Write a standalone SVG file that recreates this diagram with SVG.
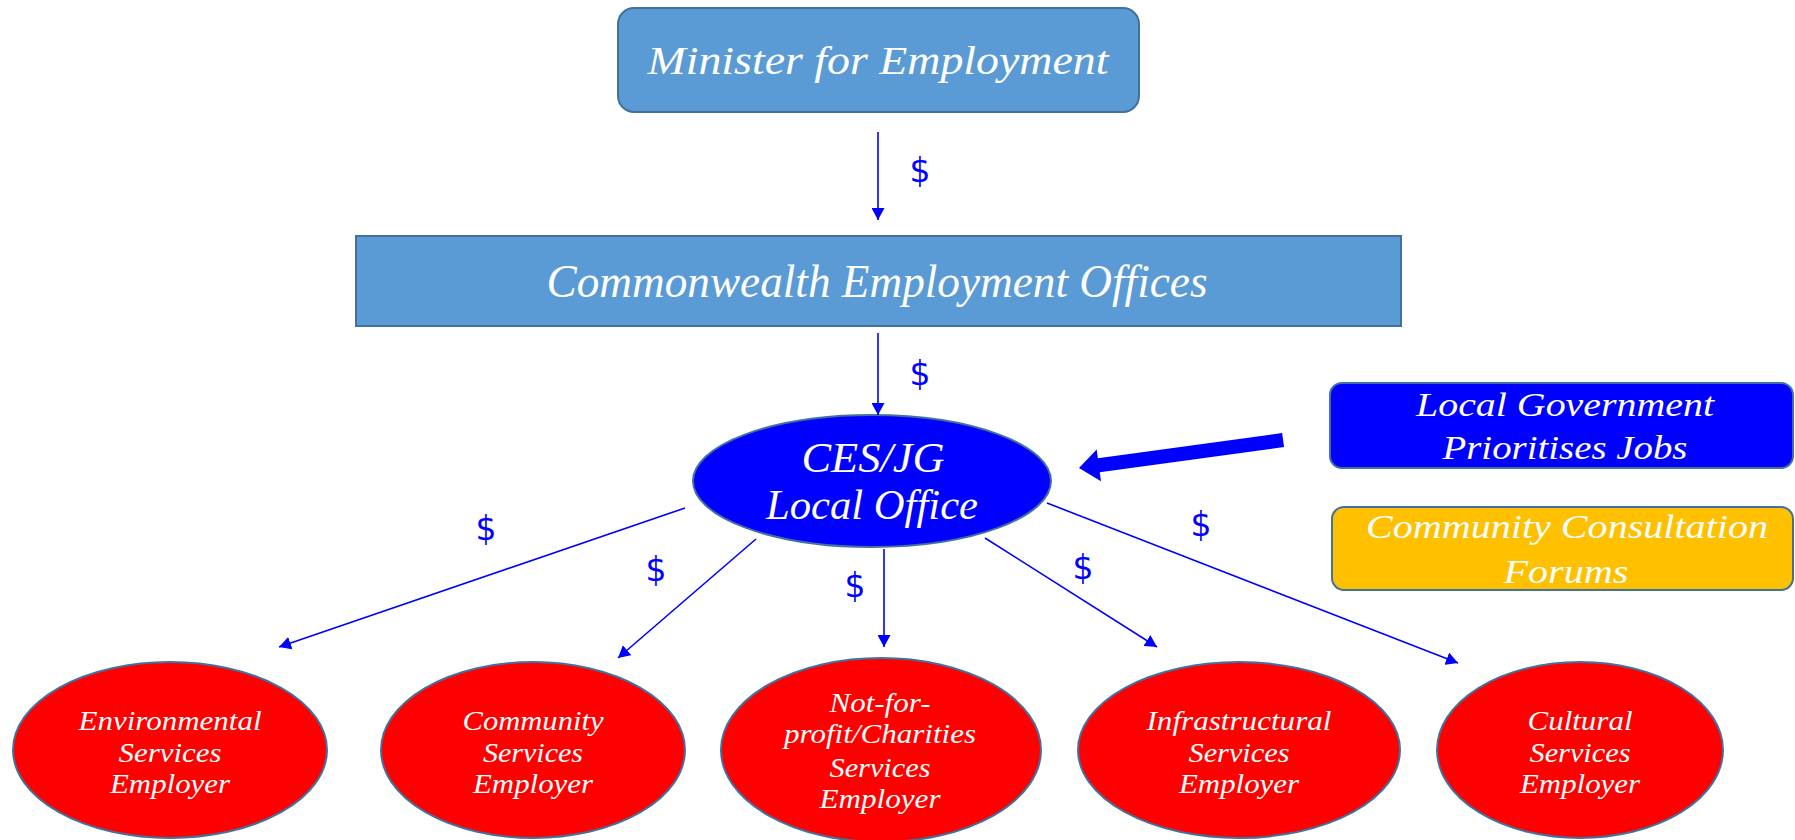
<svg xmlns="http://www.w3.org/2000/svg" width="1795" height="840" viewBox="0 0 1795 840">
  <style>
    .box { fill: #5B9BD5; stroke: #41719C; stroke-width: 2; }
    .lg { fill: #0000FF; stroke: #41719C; stroke-width: 2; }
    .ccf { fill: #FFC000; stroke: #41719C; stroke-width: 2; }
    .office { fill: #0000FF; stroke: #41719C; stroke-width: 2; }
    .emp { fill: #FF0000; stroke: #41719C; stroke-width: 2; }
    .lbl { font-family: "Liberation Serif", "DejaVu Serif", serif; font-style: italic; fill: #FFFFFF; text-anchor: middle; }
    .money { font-family: "DejaVu Sans", "Open Sans", sans-serif; font-size: 33px; fill: #0000FF; text-anchor: middle; }
    .flow { stroke: #0000FF; stroke-width: 1.6; fill: none; marker-end: url(#head); }
  </style>
  <defs>
    <marker id="head" markerUnits="userSpaceOnUse" markerWidth="13" markerHeight="13" refX="12" refY="6.5" orient="auto">
      <path d="M0,0 L12,6.5 L0,13 Z" fill="#0000FF"/>
    </marker>
  </defs>

  <g id="minister">
    <rect class="box" x="618" y="8" width="521" height="104" rx="16"/>
    <text class="lbl" x="878" y="74" font-size="41" textLength="461" lengthAdjust="spacingAndGlyphs">Minister for Employment</text>
  </g>

  <g id="ceo">
    <rect class="box" x="356" y="236" width="1045" height="90"/>
    <text class="lbl" x="877" y="297" font-size="46" textLength="661" lengthAdjust="spacingAndGlyphs">Commonwealth Employment Offices</text>
  </g>

  <g id="local-office">
    <ellipse class="office" cx="872" cy="481" rx="179" ry="66"/>
    <text class="lbl" x="873" y="472" font-size="43" textLength="143" lengthAdjust="spacingAndGlyphs">CES/JG</text>
    <text class="lbl" x="872" y="519" font-size="43" textLength="212" lengthAdjust="spacingAndGlyphs">Local Office</text>
  </g>

  <g id="local-government">
    <rect class="lg" x="1330" y="383" width="463" height="85" rx="12"/>
    <text class="lbl" x="1565" y="416" font-size="33" textLength="298" lengthAdjust="spacingAndGlyphs">Local Government</text>
    <text class="lbl" x="1565" y="459" font-size="33" textLength="245" lengthAdjust="spacingAndGlyphs">Prioritises Jobs</text>
  </g>

  <g id="consultation">
    <rect class="ccf" x="1332" y="507" width="461" height="83" rx="12"/>
    <text class="lbl" x="1567" y="538" font-size="33" textLength="402" lengthAdjust="spacingAndGlyphs">Community Consultation</text>
    <text class="lbl" x="1566" y="583" font-size="33" textLength="125" lengthAdjust="spacingAndGlyphs">Forums</text>
  </g>

  <g id="environmental">
    <ellipse class="emp" cx="170" cy="750" rx="157" ry="88"/>
    <text class="lbl" x="170" y="730" font-size="28" textLength="183" lengthAdjust="spacingAndGlyphs">Environmental</text>
    <text class="lbl" x="170" y="762" font-size="28" textLength="103" lengthAdjust="spacingAndGlyphs">Services</text>
    <text class="lbl" x="170" y="793" font-size="28" textLength="120" lengthAdjust="spacingAndGlyphs">Employer</text>
  </g>

  <g id="community">
    <ellipse class="emp" cx="533" cy="750" rx="152" ry="88"/>
    <text class="lbl" x="533" y="730" font-size="28" textLength="141" lengthAdjust="spacingAndGlyphs">Community</text>
    <text class="lbl" x="533" y="762" font-size="28" textLength="100" lengthAdjust="spacingAndGlyphs">Services</text>
    <text class="lbl" x="533" y="793" font-size="28" textLength="120" lengthAdjust="spacingAndGlyphs">Employer</text>
  </g>

  <g id="not-for-profit">
    <ellipse class="emp" cx="881" cy="750" rx="160" ry="92"/>
    <text class="lbl" x="880" y="712" font-size="28" textLength="101" lengthAdjust="spacingAndGlyphs">Not-for-</text>
    <text class="lbl" x="880" y="743" font-size="28" textLength="192" lengthAdjust="spacingAndGlyphs">profit/Charities</text>
    <text class="lbl" x="880" y="777" font-size="28" textLength="101" lengthAdjust="spacingAndGlyphs">Services</text>
    <text class="lbl" x="880" y="808" font-size="28" textLength="121" lengthAdjust="spacingAndGlyphs">Employer</text>
  </g>

  <g id="infrastructural">
    <ellipse class="emp" cx="1239" cy="750" rx="161" ry="88"/>
    <text class="lbl" x="1239" y="730" font-size="28" textLength="185" lengthAdjust="spacingAndGlyphs">Infrastructural</text>
    <text class="lbl" x="1239" y="762" font-size="28" textLength="101" lengthAdjust="spacingAndGlyphs">Services</text>
    <text class="lbl" x="1239" y="793" font-size="28" textLength="120" lengthAdjust="spacingAndGlyphs">Employer</text>
  </g>

  <g id="cultural">
    <ellipse class="emp" cx="1580" cy="750" rx="143" ry="88"/>
    <text class="lbl" x="1580" y="730" font-size="28" textLength="105" lengthAdjust="spacingAndGlyphs">Cultural</text>
    <text class="lbl" x="1580" y="762" font-size="28" textLength="101" lengthAdjust="spacingAndGlyphs">Services</text>
    <text class="lbl" x="1580" y="793" font-size="28" textLength="120" lengthAdjust="spacingAndGlyphs">Employer</text>
  </g>

  <g id="connectors">
    <line class="flow" x1="878" y1="132" x2="878" y2="220"/>
    <line class="flow" x1="878" y1="333" x2="878" y2="415"/>
    <line class="flow" x1="685" y1="508" x2="279" y2="647"/>
    <line class="flow" x1="756" y1="539" x2="618" y2="658"/>
    <line class="flow" x1="884" y1="549" x2="884" y2="647"/>
    <line class="flow" x1="985" y1="538" x2="1157" y2="647"/>
    <line class="flow" x1="1047" y1="503" x2="1458" y2="663"/>
    <!-- broad arrow from the local government box into the local office -->
    <polygon transform="translate(1079,468) rotate(-7.8)" points="0,0 20,-16 20,-7 206,-7 206,7 20,7 20,16" fill="#0000FF"/>
    <text class="money" x="920" y="182">$</text>
    <text class="money" x="920" y="385">$</text>
    <text class="money" x="486" y="540">$</text>
    <text class="money" x="656" y="581">$</text>
    <text class="money" x="855" y="597">$</text>
    <text class="money" x="1083" y="579">$</text>
    <text class="money" x="1201" y="536">$</text>
  </g>
</svg>
